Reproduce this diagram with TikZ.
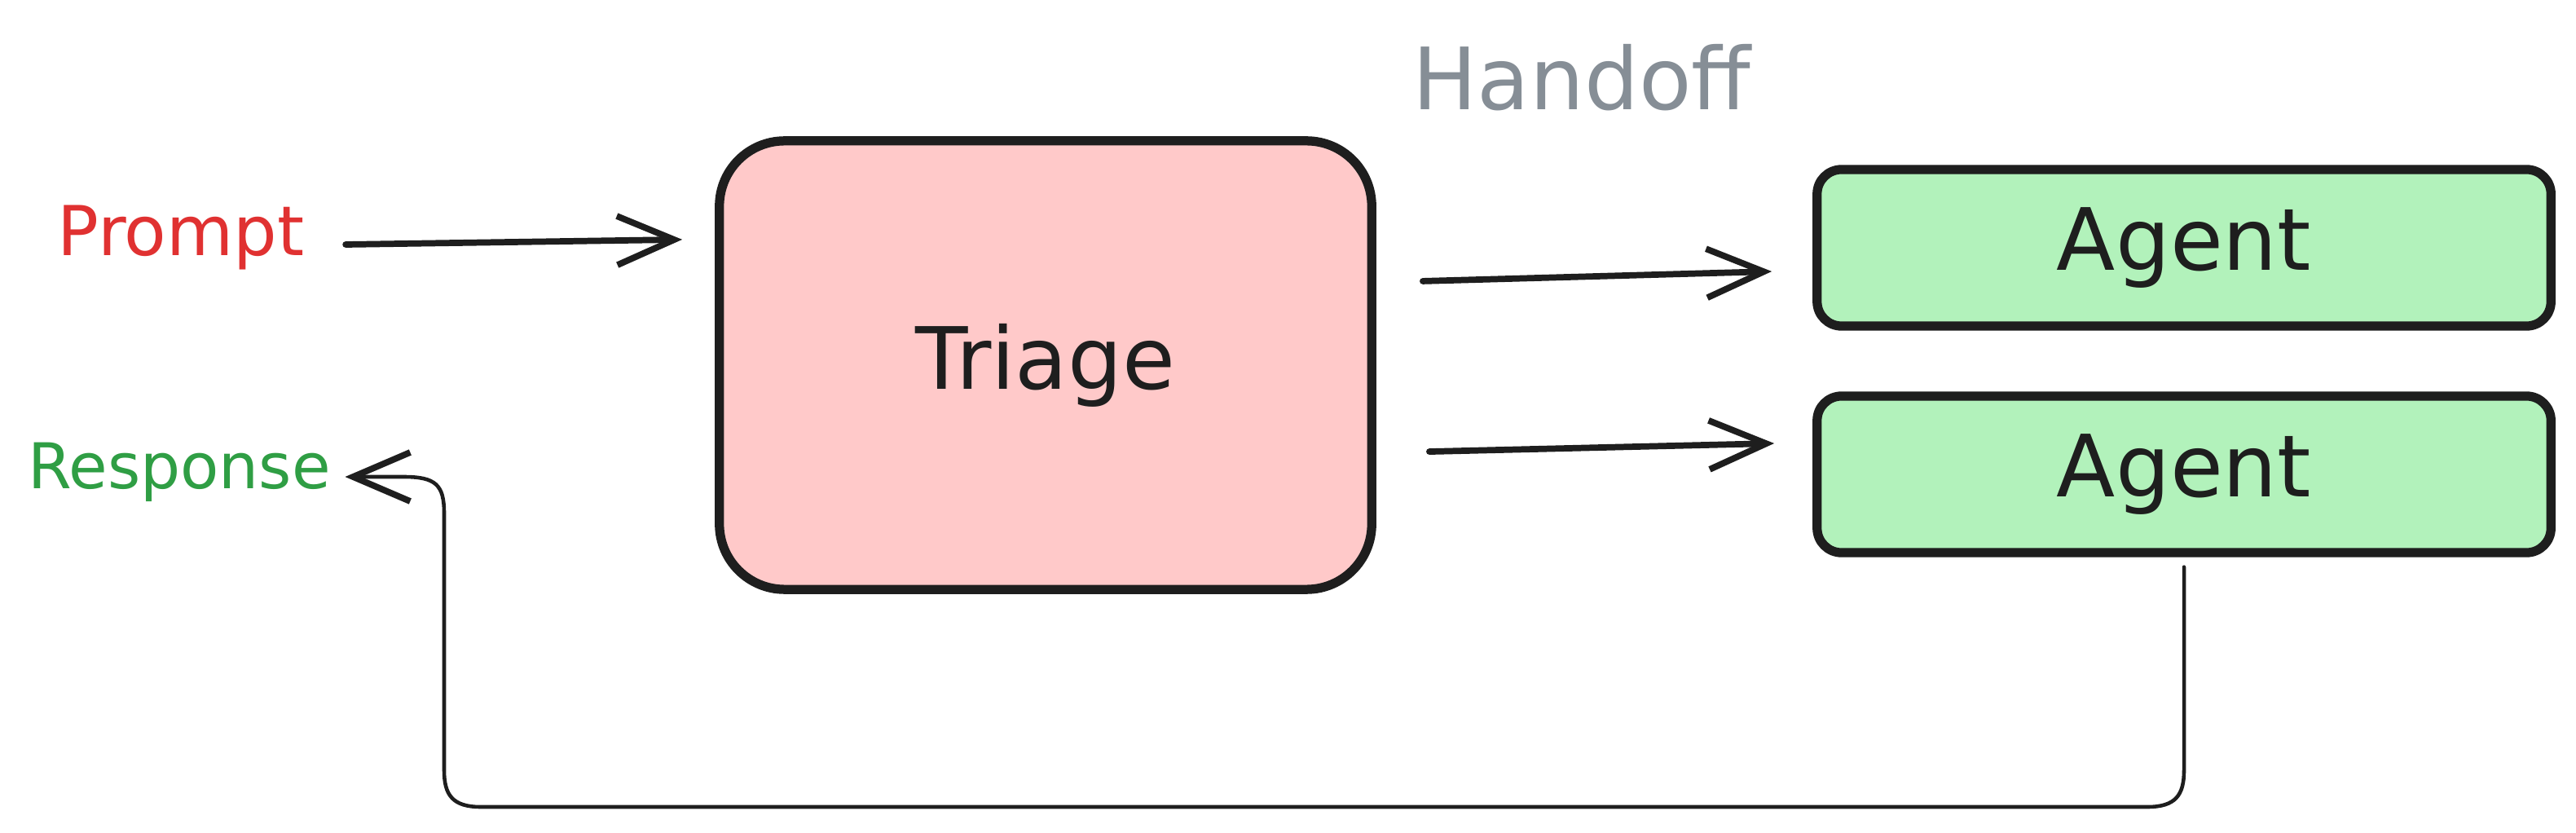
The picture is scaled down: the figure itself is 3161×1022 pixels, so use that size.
\documentclass[tikz,border=0pt]{standalone}
\usepackage{fontspec}
\setmainfont{DejaVu Sans}
\usetikzlibrary{arrows.meta}
\definecolor{strk}{HTML}{1E1E1E}
\definecolor{redtxt}{HTML}{E03131}
\definecolor{greentxt}{HTML}{2F9E44}
\definecolor{graytxt}{HTML}{868E96}
\definecolor{pinkfill}{HTML}{FFC9C9}
\definecolor{greenfill}{HTML}{B2F2BB}
\tikzset{
  box/.style={draw=strk, line width=3.2pt, inner sep=0pt},
  triagebox/.style={box, fill=pinkfill, rounded corners=0.8cm, minimum width=8.0cm, minimum height=5.5cm},
  agentbox/.style={box, fill=greenfill, rounded corners=0.3cm, minimum width=9.0cm, minimum height=1.92cm},
  lbl/.style={inner sep=0pt, font=\fontsize{30}{36}\selectfont, text=strk},
  arr/.style={draw=strk, line width=2.2pt, line cap=round, -{Straight Barb[length=0.7cm, width=0.6cm, line width=2.2pt]}},
  ret/.style={draw=strk, line width=1.3pt, line cap=round, -{Straight Barb[length=0.7cm, width=0.6cm, line width=2.2pt]}}
}
\begin{document}
\begin{tikzpicture}[x=0.01cm, y=-0.01cm]
\useasboundingbox (0,0) rectangle (3161,1022);
\node[triagebox] (triage) at (1283,448) {};
\node[lbl] at (triage.center) {Triage};
\node[agentbox] (ag1) at (2680,304) {};
\node[lbl] at (ag1.center) {Agent};
\node[agentbox] (ag2) at (2680,582) {};
\node[lbl] at (ag2.center) {Agent};
\node[lbl, text=graytxt] (handoff) at (1941,95) {Handoff};
\node[inner sep=0pt, font=\fontsize{24}{29}\selectfont, text=redtxt] (prompt) at (222,292) {Prompt};
\node[inner sep=0pt, font=\fontsize{22}{27}\selectfont, text=greentxt] (resp) at (220,579) {Response};
\draw[arr] ([xshift=0.5cm,yshift=-0.08cm]prompt.east) -- ([xshift=-0.4cm,yshift=1.54cm]triage.west);
\draw[arr] ([xshift=0.57cm,yshift=1.03cm]triage.east) -- ([xshift=-0.5cm,yshift=-0.29cm]ag1.west);
\draw[arr] ([xshift=0.65cm,yshift=-1.06cm]triage.east) -- ([xshift=-0.47cm,yshift=0.38cm]ag2.west);
\coordinate (rs) at ([yshift=-0.12cm]ag2.south);
\draw[ret] (rs) -- (2680,945) .. controls (2680,975) and (2670,990) .. (2635,990) -- (590,990)
  .. controls (555,990) and (545,975) .. (545,945) -- (545,630)
  .. controls (545,595) and (535,585) .. (495,585)
  -- ([xshift=0.17cm,yshift=-0.06cm]resp.east);
\end{tikzpicture}
\end{document}
